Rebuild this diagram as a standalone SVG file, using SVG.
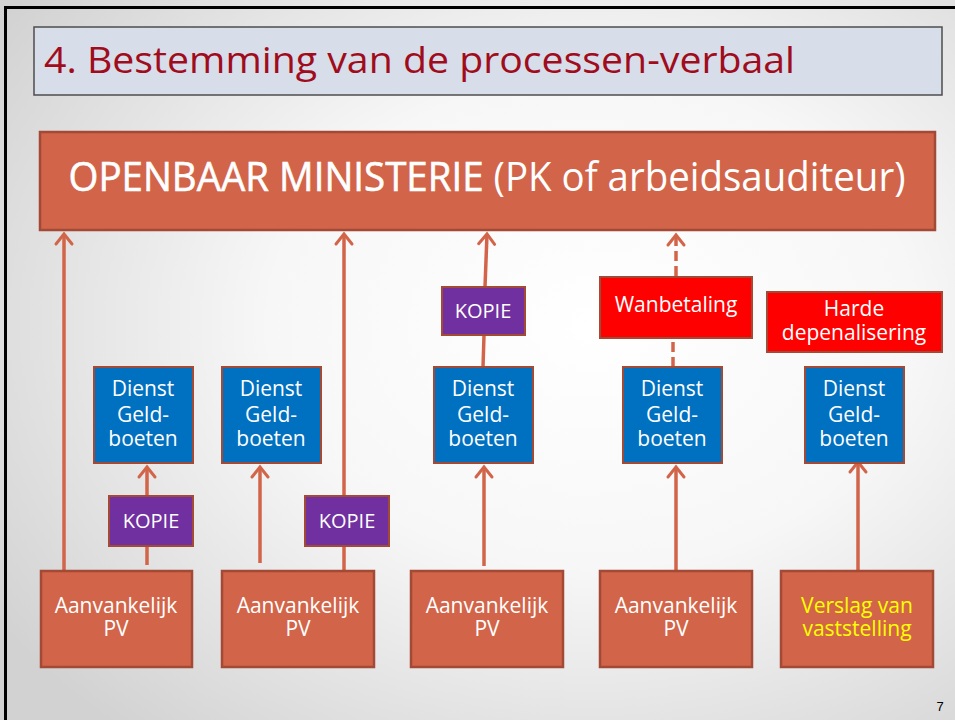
<svg xmlns="http://www.w3.org/2000/svg" width="955" height="720" viewBox="0 0 955 720">
<defs>
<radialGradient id="bg" cx="62%" cy="45%" r="75%">
<stop offset="0" stop-color="#ffffff"/>
<stop offset="0.45" stop-color="#f7f7f7"/>
<stop offset="1" stop-color="#d2d2d2"/>
</radialGradient>
<marker id="ah" markerUnits="userSpaceOnUse" viewBox="-14 -12 18 24" markerWidth="18" markerHeight="24" refX="0" refY="0" orient="auto">
<path d="M-10,-8 L0,0 L-10,8" fill="none" stroke="#d26549" stroke-width="3" stroke-linecap="round" stroke-linejoin="miter"/>
</marker>
</defs>
<style>
text{font-family:"Open Sans","Noto Sans","DejaVu Sans",sans-serif;text-anchor:middle;fill:#ffffff}
.orange{fill:#d26549;stroke:#a34a36;stroke-width:2.5}
.blue{fill:#0070c0;stroke:#a34a36;stroke-width:2}
.purple{fill:#7030a0;stroke:#a34a36;stroke-width:2}
.red{fill:#ff0000;stroke:#a34a36;stroke-width:2}
.t20{font-size:20px}
.t21{font-size:21px}
.conn line{stroke:#d26549;stroke-width:3.5}
.dash{stroke-dasharray:10 5}
</style>
<rect x="0" y="0" width="955" height="720" fill="url(#bg)"/>
<path d="M5.5,720 L5.5,7.5 L955,7.5" fill="none" stroke="#000" stroke-width="3"/>

<g id="title">
<rect x="34" y="27" width="908" height="68" fill="#d7dde9" stroke="#4d4d4d" stroke-width="1.5"/>
<text x="44" y="73" style="text-anchor:start;fill:#a00c1c;font-size:36px" textLength="751" lengthAdjust="spacingAndGlyphs">4. Bestemming van de processen-verbaal</text>
</g>

<g id="om">
<rect class="orange" x="40" y="132" width="895" height="98" stroke-width="3.5"/>
<text x="487" y="191" style="font-size:40px" textLength="837" lengthAdjust="spacingAndGlyphs"><tspan style="stroke:#ffffff;stroke-width:0.6">OPENBAAR MINISTERIE</tspan> (PK of arbeidsauditeur)</text>
</g>

<g class="conn" id="connectors">
<line x1="64" y1="570" x2="64" y2="234" marker-end="url(#ah)"/>
<line x1="147" y1="565" x2="147" y2="546"/>
<line x1="147" y1="496" x2="147" y2="467" marker-end="url(#ah)"/>
<line x1="260" y1="563" x2="260" y2="467" marker-end="url(#ah)"/>
<line x1="344" y1="570" x2="344" y2="546"/>
<line x1="344" y1="496" x2="344" y2="234" marker-end="url(#ah)"/>
<line x1="484" y1="566" x2="484" y2="467" marker-end="url(#ah)"/>
<line x1="483" y1="367" x2="484" y2="335"/>
<line x1="485" y1="287" x2="487" y2="234" marker-end="url(#ah)"/>
<line x1="676" y1="570" x2="676" y2="467" marker-end="url(#ah)"/>
<line class="dash" x1="673" y1="367" x2="673" y2="338"/>
<line class="dash" x1="676" y1="276" x2="676" y2="235" marker-end="url(#ah)"/>
<line x1="858" y1="570" x2="858" y2="462" marker-end="url(#ah)"/>
</g>

<g id="pv1"><rect class="orange" x="41" y="571" width="151" height="96"/><text class="t21" x="116" y="613">Aanvankelijk</text><text class="t21" x="116" y="636">PV</text></g>
<g id="pv2"><rect class="orange" x="222" y="571" width="152" height="96"/><text class="t21" x="298" y="613">Aanvankelijk</text><text class="t21" x="298" y="636">PV</text></g>
<g id="pv3"><rect class="orange" x="411" y="571" width="152" height="96"/><text class="t21" x="487" y="613">Aanvankelijk</text><text class="t21" x="487" y="636">PV</text></g>
<g id="pv4"><rect class="orange" x="600" y="571" width="152" height="96"/><text class="t21" x="676" y="613">Aanvankelijk</text><text class="t21" x="676" y="636">PV</text></g>
<g id="verslag"><rect class="orange" x="781" y="571" width="152" height="96"/><text class="t21" x="857" y="613" style="fill:#ffff00">Verslag van</text><text class="t21" x="857" y="636" style="fill:#ffff00">vaststelling</text></g>

<g id="dienst1"><rect class="blue" x="94" y="367" width="99" height="96"/><text class="t21" x="143" y="396">Dienst</text><text class="t21" x="143" y="422">Geld-</text><text class="t21" x="143" y="446">boeten</text></g>
<g id="dienst2"><rect class="blue" x="222" y="367" width="99" height="96"/><text class="t21" x="271" y="396">Dienst</text><text class="t21" x="271" y="422">Geld-</text><text class="t21" x="271" y="446">boeten</text></g>
<g id="dienst3"><rect class="blue" x="434" y="367" width="99" height="96"/><text class="t21" x="483" y="396">Dienst</text><text class="t21" x="483" y="422">Geld-</text><text class="t21" x="483" y="446">boeten</text></g>
<g id="dienst4"><rect class="blue" x="623" y="367" width="99" height="96"/><text class="t21" x="672" y="396">Dienst</text><text class="t21" x="672" y="422">Geld-</text><text class="t21" x="672" y="446">boeten</text></g>
<g id="dienst5"><rect class="blue" x="805" y="367" width="99" height="96"/><text class="t21" x="854" y="396">Dienst</text><text class="t21" x="854" y="422">Geld-</text><text class="t21" x="854" y="446">boeten</text></g>

<g id="kopie1"><rect class="purple" x="109" y="496" width="84" height="50"/><text class="t20" x="151" y="528">KOPIE</text></g>
<g id="kopie2"><rect class="purple" x="305" y="496" width="84" height="50"/><text class="t20" x="347" y="528">KOPIE</text></g>
<g id="kopie3"><rect class="purple" x="442" y="287" width="83" height="48"/><text class="t20" x="483" y="318">KOPIE</text></g>

<g id="wanbetaling"><rect class="red" x="600" y="277" width="152" height="61"/><text class="t21" x="676" y="312">Wanbetaling</text></g>
<g id="harde"><rect class="red" x="767" y="292" width="175" height="60"/><text class="t21" x="854" y="316">Harde</text><text class="t21" x="854" y="340">depenalisering</text></g>

<text x="940" y="711" style="font-family:'Liberation Sans',Arial,sans-serif;font-size:13px;fill:#000">7</text>
</svg>
